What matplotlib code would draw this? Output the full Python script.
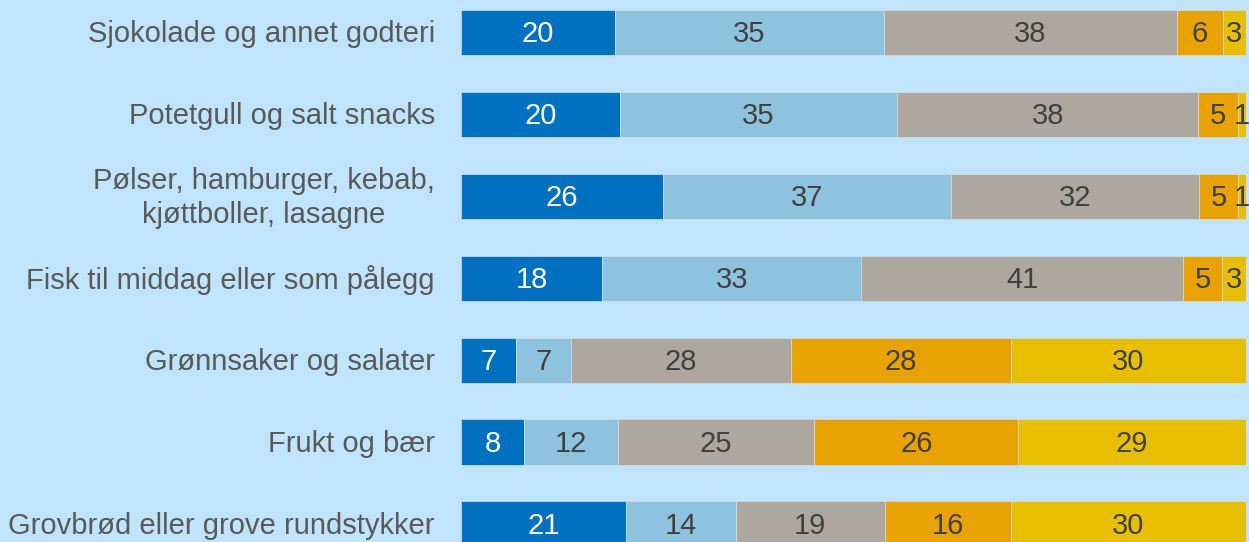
import numpy as np
import matplotlib.pyplot as plt

plt.rcParams['font.family'] = ['Liberation Sans', 'DejaVu Sans']

# Kategorier og andeler (prosent)
categories = [
    'Sjokolade og annet godteri',
    'Potetgull og salt snacks',
    'Pølser, hamburger, kebab,\nkjøttboller, lasagne',
    'Fisk til middag eller som pålegg',
    'Grønnsaker og salater',
    'Frukt og bær',
    'Grovbrød eller grove rundstykker',
]
s1 = [20, 20, 26, 18, 7, 8, 21]
s2 = [35, 35, 37, 33, 7, 12, 14]
s3 = [38, 38, 32, 41, 28, 25, 19]
s4 = [6, 5, 5, 5, 28, 26, 16]
s5 = [3, 1, 1, 3, 30, 29, 30]

series = [s1, s2, s3, s4, s5]
colors = ['#0070C0', '#8EC3E0', '#AEA79F', '#E8A202', '#E8BF00']
text_colors = ['white', '#404040', '#404040', '#404040', '#404040']

bg = '#BFE4FC'
W, H = 1249, 542
fig = plt.figure(figsize=(W / 100, H / 100), dpi=100)
fig.patch.set_facecolor(bg)

ax = fig.add_axes([461 / W, 0, 785 / W, 1])
ax.set_facecolor(bg)

vals = np.array(series, dtype=float)
totals = vals.sum(axis=0)
y = np.arange(len(categories))
left = np.zeros(len(categories))

# 100 % stablede søyler
for vals_row, c, tc in zip(vals, colors, text_colors):
    w = vals_row / totals
    ax.barh(y, w, left=left, height=0.55, color=c, edgecolor='#d6dde2', linewidth=0.5)
    for yi, li, wi, v in zip(y, left, w, vals_row):
        ax.text(li + wi / 2, yi + 0.02, f'{int(v)}', ha='center', va='center',
                color=tc, fontsize=21)
    left += w

for yi, cat in zip(y, categories):
    ax.text(-26 / 785, yi + 0.02, cat, ha='right', va='center', multialignment='center',
            color='#595959', fontsize=21, linespacing=1.3,
            transform=ax.get_yaxis_transform(), clip_on=False)

sp = 81.9
ax.set_xlim(0, 1)
ax.set_ylim((H - 32.5) / sp, -32.5 / sp)
ax.axis('off')

fig.savefig('out.png', dpi=100, facecolor=bg)
